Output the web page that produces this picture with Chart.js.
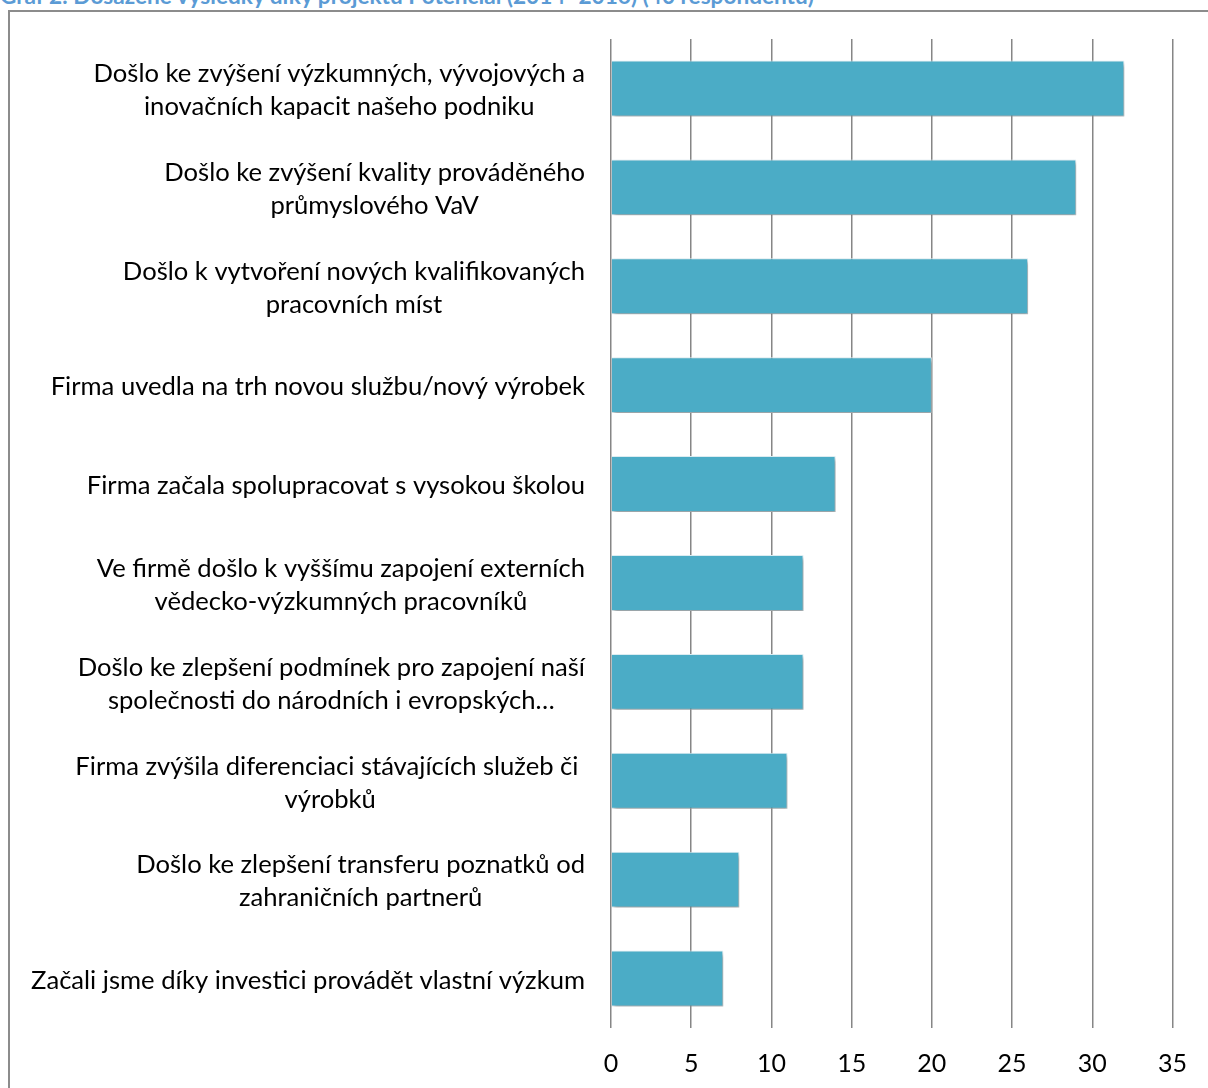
<!DOCTYPE html>
<html>
<head>
<meta charset="utf-8">
<script src="https://cdn.jsdelivr.net/npm/chart.js@4"></script>
<style>
    body { margin: 0; background: #fff; width: 1208px; height: 1088px; overflow: hidden; position: relative; }
    #title { position: absolute; left: 0; top: -18px; font: bold 22.6px Lato, sans-serif; line-height: 1.2; color: #5b9bd5; white-space: nowrap; }
    #frame { position: absolute; left: 8px; top: 10px; width: 1300px; height: 1200px; border: 2px solid #8c8c8c; box-sizing: border-box; }
    #wrap { position: absolute; left: 0; top: 0; width: 1208px; height: 1088px; }
</style>
</head>
<body>
<div id="title">Graf 2: Dosažené výsledky díky projektu Potenciál (2014–2016) (40 respondentů)</div>
<div id="frame"></div>
<div id="wrap"><canvas id="chart"></canvas></div>
<script>
// categories, top to bottom (each entry = lines of the label)
var categories = [
    ["Došlo ke zvýšení výzkumných, vývojových a", "inovačních kapacit našeho podniku"],
    ["Došlo ke zvýšení kvality prováděného", "průmyslového VaV"],
    ["Došlo k vytvoření nových kvalifikovaných", "pracovních míst"],
    ["Firma uvedla na trh novou službu/nový výrobek"],
    ["Firma začala spolupracovat s vysokou školou"],
    ["Ve firmě došlo k vyššímu zapojení externích", "vědecko-výzkumných pracovníků"],
    ["Došlo ke zlepšení podmínek pro zapojení naší", "společnosti do národních i evropských…"],
    ["Firma zvýšila diferenciaci stávajících služeb či ", "výrobků"],
    ["Došlo ke zlepšení transferu poznatků od", "zahraničních partnerů"],
    ["Začali jsme díky investici provádět vlastní výzkum"]
];
var values = [32, 29, 26, 20, 14, 12, 12, 11, 8, 7];
var xTicks = [0, 5, 10, 15, 20, 25, 30, 35];

var labelFont = '25.6px Lato, sans-serif';

// bar shadow like the Excel original
var shadowPlugin = {
    id: 'barShadow',
    beforeDatasetsDraw: function (chart) {
        var ctx = chart.ctx;
        ctx.save();
        ctx.shadowColor = 'rgba(0,0,0,0.35)';
        ctx.shadowBlur = 4;
        ctx.shadowOffsetX = 2;
        ctx.shadowOffsetY = 3;
    },
    afterDatasetsDraw: function (chart) {
        chart.ctx.restore();
    }
};

// category labels: each label right-aligned, its lines centred on each other
var labelPlugin = {
    id: 'catLabels',
    afterDraw: function (chart) {
        var ctx = chart.ctx;
        var yScale = chart.scales.y;
        var right = chart.chartArea.left - 26;
        var lineH = 33;
        ctx.save();
        ctx.font = labelFont;
        ctx.fillStyle = '#000';
        ctx.textAlign = 'center';
        ctx.textBaseline = 'middle';
        categories.forEach(function (lines, i) {
            var widest = 0;
            lines.forEach(function (l) { widest = Math.max(widest, ctx.measureText(l).width); });
            var cx = right - widest / 2;
            var yc = yScale.getPixelForValue(i) + 2;
            var y0 = yc - (lines.length - 1) * lineH / 2;
            lines.forEach(function (l, k) {
                ctx.fillText(l, cx, y0 + k * lineH);
            });
        });
        ctx.restore();
    }
};

var ctx = document.getElementById('chart').getContext('2d');
new Chart(ctx, {
    type: 'bar',
    data: {
        labels: categories,
        datasets: [{
            data: values,
            backgroundColor: '#4bacc6',
            borderColor: '#dff0f5',
            borderWidth: 1,
            barPercentage: 0.565,
            categoryPercentage: 1
        }]
    },
    plugins: [shadowPlugin, labelPlugin],
    options: {
        indexAxis: 'y',
        responsive: true,
        maintainAspectRatio: false,
        animation: false,
        layout: { padding: { left: 611, top: 39, right: 27, bottom: 0 } },
        plugins: {
            legend: { display: false },
            tooltip: { enabled: false }
        },
        scales: {
            x: {
                min: 0,
                max: 35,
                afterBuildTicks: function (scale) {
                    scale.ticks = xTicks.map(function (v) { return { value: v }; });
                },
                afterFit: function (scale) {
                    scale.height = 60;
                },
                grid: { color: '#868686', lineWidth: 1.5, drawTicks: false },
                border: { display: false },
                ticks: { color: '#000', padding: 21, font: { family: 'Lato', size: 25 } }
            },
            y: {
                display: false
            }
        }
    }
});
</script>
</body>
</html>
